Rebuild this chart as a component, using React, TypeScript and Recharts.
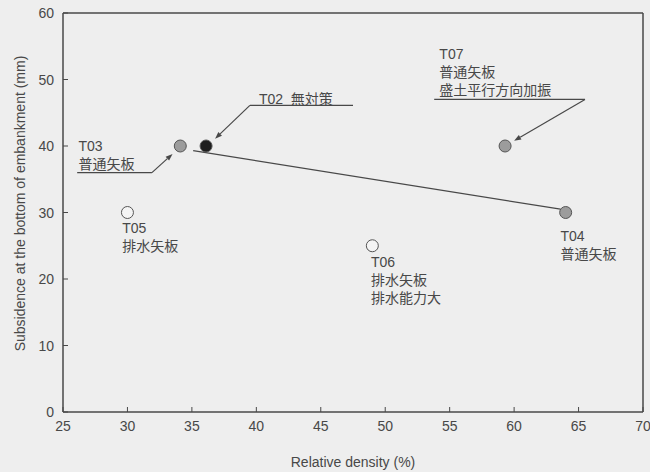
import React from "react"
import {
  ScatterChart,
  Scatter,
  XAxis,
  YAxis,
  ReferenceLine,
  ReferenceDot,
  Cell,
} from "recharts"

// test cases
const tests = ["T02", "T03", "T04", "T05", "T06", "T07"]
const density = [36.1, 34.1, 64.0, 30.0, 49.0, 59.3]
const subsidence = [40, 40, 30, 30, 25, 40]
const kind = ["none", "sheet", "sheet", "drain", "drain", "sheet"]

const xTicks = [25, 30, 35, 40, 45, 50, 55, 60, 65, 70]
const yTicks = [0, 10, 20, 30, 40, 50, 60]

// trend line T02 -> T04
const trendX = [35.1, 63.6]
const trendY = [39.3, 30.5]

// annotation text (first line position in data units)
const noteLines = [
  ["T03", "普通矢板"],
  ["T02  無対策"],
  ["T07", "普通矢板", "盛土平行方向加振"],
  ["T05", "排水矢板"],
  ["T06", "排水矢板", "排水能力大"],
  ["T04", "普通矢板"],
]
const noteX = [26.2, 40.2, 54.2, 29.6, 48.9, 63.6]
const noteY = [40.0, 47.1, 53.8, 27.6, 22.5, 26.5]

// leader lines: [x1, y1, x2, y2, arrow]
const leaders: [number, number, number, number, boolean][] = [
  [26.1, 36.0, 31.9, 36.0, false],
  [31.9, 36.0, 33.5, 38.8, true],
  [39.5, 46.1, 47.5, 46.1, false],
  [39.5, 46.1, 36.8, 41.1, true],
  [53.8, 47.0, 65.5, 47.0, false],
  [65.5, 47.0, 60.0, 40.8, true],
]

const fills: Record<string, string> = { none: "#1e1e1e", sheet: "#9c9c9c", drain: "#f4f4f4" }

const points = tests.map((t, i) => ({ name: t, x: density[i], y: subsidence[i], kind: kind[i] }))
const trend = trendX.map((x, i) => ({ x, y: trendY[i] }))

const INK = "#484848"
const FONT = "'Liberation Sans', Arial, 'Noto Sans CJK JP', sans-serif"

const BottomTick = (p: any) => (
  <g>
    <line x1={p.x} y1={p.y} x2={p.x} y2={p.y - 5} stroke={INK} />
    <text x={p.x} y={p.y + 19} textAnchor="middle" fontSize={14} fill={INK} fontFamily={FONT}>
      {p.payload.value}
    </text>
  </g>
)
const TopTick = (p: any) => <line x1={p.x} y1={p.y} x2={p.x} y2={p.y + 5} stroke={INK} />
const LeftTick = (p: any) => (
  <g>
    <line x1={p.x} y1={p.y} x2={p.x + 5} y2={p.y} stroke={INK} />
    <text x={p.x - 9} y={p.y + 5} textAnchor="end" fontSize={14} fill={INK} fontFamily={FONT}>
      {p.payload.value}
    </text>
  </g>
)
const RightTick = (p: any) => <line x1={p.x} y1={p.y} x2={p.x - 5} y2={p.y} stroke={INK} />

const plainSeg = (p: any) => <line x1={p.x1} y1={p.y1} x2={p.x2} y2={p.y2} stroke={INK} strokeWidth={1.2} />
const arrowSeg = (p: any) => {
  const a = Math.atan2(p.y2 - p.y1, p.x2 - p.x1)
  const L = 7
  const W = 2.6
  const bx = p.x2 - L * Math.cos(a)
  const by = p.y2 - L * Math.sin(a)
  const nx = -Math.sin(a) * W
  const ny = Math.cos(a) * W
  return (
    <g>
      <line x1={p.x1} y1={p.y1} x2={bx} y2={by} stroke={INK} strokeWidth={1.2} />
      <polygon points={`${p.x2},${p.y2} ${bx + nx},${by + ny} ${bx - nx},${by - ny}`} fill={INK} />
    </g>
  )
}

const Dot = (p: any) => (
  <circle cx={p.cx} cy={p.cy} r={6} fill={fills[p.payload.kind]} stroke="#555" strokeWidth={1} />
)

export default function App() {
  return (
    <div style={{ position: "absolute", left: 0, top: 0, width: 650, height: 472, background: "#eeeeee" }}>
      <ScatterChart width={650} height={472} margin={{ top: 12, right: 6, bottom: 10, left: 10 }}>
        <XAxis
          xAxisId={0}
          type="number"
          dataKey="x"
          domain={[25, 70]}
          ticks={xTicks}
          interval={0}
          height={50}
          tickSize={0}
          tickMargin={0}
          tickLine={false}
          tick={<BottomTick />}
          axisLine={{ stroke: INK, strokeWidth: 1.5 }}
          label={{
            content: (p: any) => (
              <text
                x={p.viewBox.x + p.viewBox.width / 2}
                y={p.viewBox.y + 55}
                textAnchor="middle"
                fontSize={14}
                fill={INK}
                fontFamily={FONT}
              >
                Relative density (%)
              </text>
            ),
          }}
        />
        <XAxis
          xAxisId="t"
          orientation="top"
          type="number"
          dataKey="x"
          domain={[25, 70]}
          ticks={xTicks}
          interval={0}
          height={1}
          tickSize={0}
          tickMargin={0}
          tickLine={false}
          tick={<TopTick />}
          axisLine={{ stroke: INK, strokeWidth: 1.5 }}
        />
        <YAxis
          yAxisId={0}
          type="number"
          dataKey="y"
          domain={[0, 60]}
          ticks={yTicks}
          interval={0}
          width={53}
          tickSize={0}
          tickMargin={0}
          tickLine={false}
          tick={<LeftTick />}
          axisLine={{ stroke: INK, strokeWidth: 1.5 }}
          label={{
            content: (p: any) => {
              const cx = 20
              const cy = p.viewBox.y + p.viewBox.height / 2 - 9
              return (
                <text
                  x={cx}
                  y={cy}
                  transform={`rotate(-90 ${cx} ${cy})`}
                  textAnchor="middle"
                  dominantBaseline="central"
                  fontSize={14}
                  fill={INK}
                  fontFamily={FONT}
                >
                  Subsidence at the bottom of embankment (mm)
                </text>
              )
            },
          }}
        />
        <YAxis
          yAxisId="r"
          orientation="right"
          type="number"
          dataKey="y"
          domain={[0, 60]}
          ticks={yTicks}
          interval={0}
          width={1}
          tickSize={0}
          tickMargin={0}
          tickLine={false}
          tick={<RightTick />}
          axisLine={{ stroke: INK, strokeWidth: 1.5 }}
        />

        {leaders.map((s, i) => (
          <ReferenceLine
            key={"l" + i}
            segment={[
              { x: s[0], y: s[1] },
              { x: s[2], y: s[3] },
            ]}
            shape={s[4] ? arrowSeg : plainSeg}
          />
        ))}

        {noteLines.map((lines, i) => (
          <ReferenceDot
            key={"n" + i}
            x={noteX[i]}
            y={noteY[i]}
            r={0}
            shape={(p: any) => (
              <text
                x={p.cx}
                y={p.cy}
                fontSize={14}
                fill={INK}
                fontFamily={FONT}
                dominantBaseline="central"
                style={{ whiteSpace: "pre" }}
              >
                {lines.map((l, j) => (
                  <tspan key={j} x={p.cx} dy={j === 0 ? 0 : 18}>
                    {l}
                  </tspan>
                ))}
              </text>
            )}
          />
        ))}

        <Scatter
          data={trend}
          line={{ stroke: INK, strokeWidth: 1.2 }}
          shape={() => <g />}
          isAnimationActive={false}
        />
        <Scatter data={points} shape={<Dot />} isAnimationActive={false}>
          {points.map((p) => (
            <Cell key={p.name} fill={fills[p.kind]} />
          ))}
        </Scatter>
      </ScatterChart>
    </div>
  )
}
